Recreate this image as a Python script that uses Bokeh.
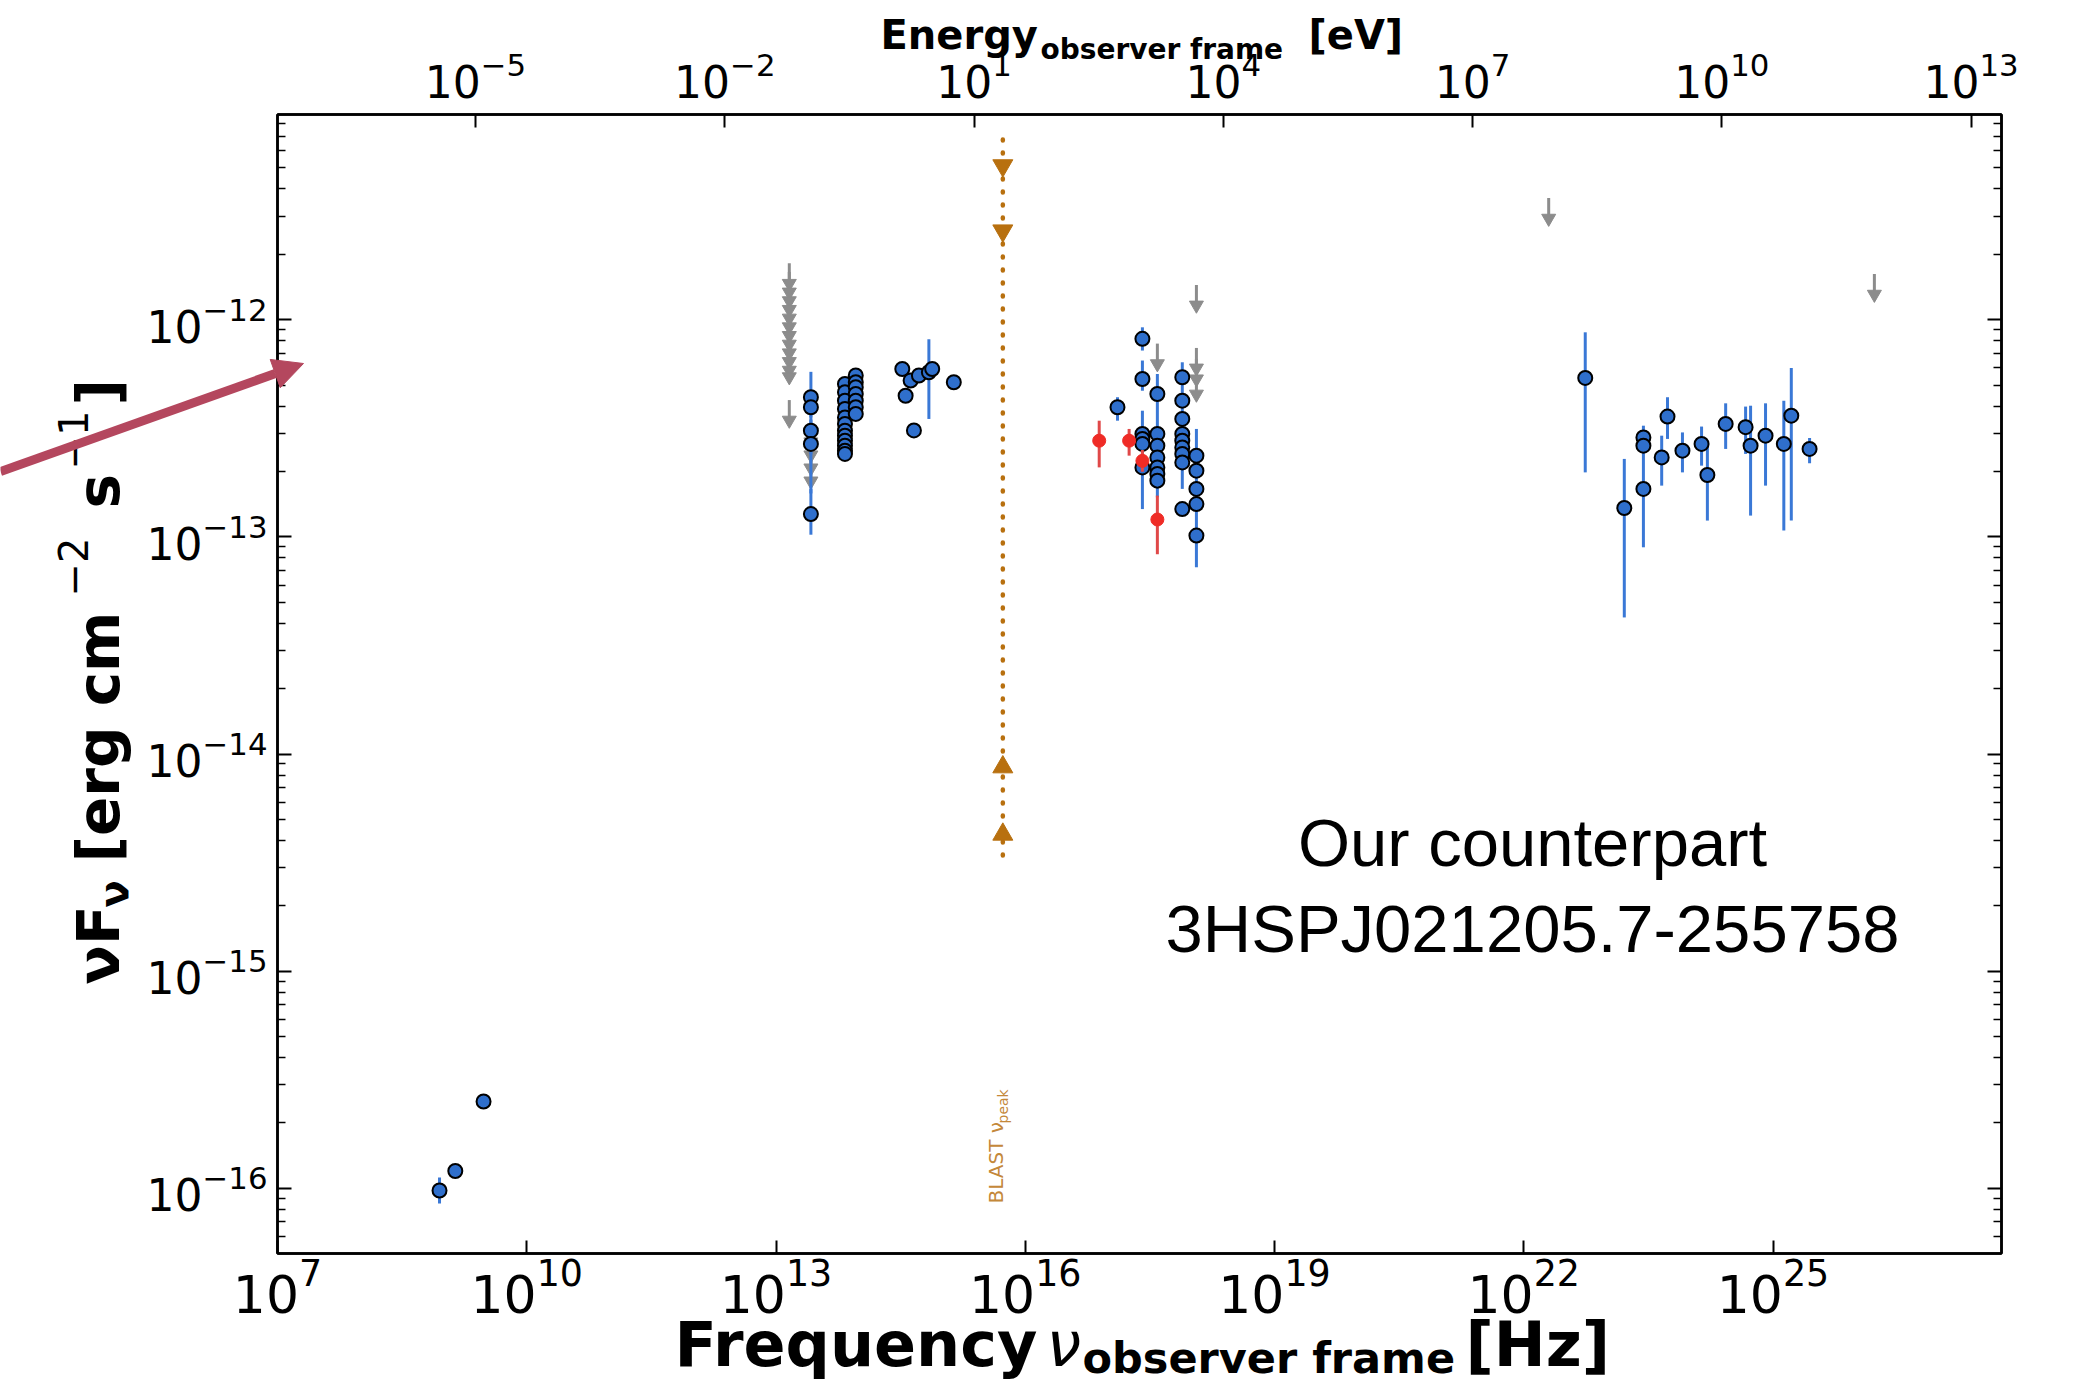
import math
from bokeh.plotting import figure
from bokeh.layouts import column
from bokeh.models import (Range1d, LogScale, LogAxis, FixedTicker, Label, Arrow,
                          NormalHead, CustomJSTickFormatter)
from bokeh.embed import file_html
from bokeh.resources import INLINE

PLANCK_EV_S = 4.135667696e-15
W, H = 2085, 1387

# ---- SED data: log10(nu / Hz), log10(nuFnu / erg cm^-2 s^-1), error low/high (None = no bar)
radio_pts = [
    (8.95, -16.01, -16.07, -15.95),
    (9.14, -15.92, None, None),
    (9.48, -15.60, None, None),
]
ir_pts = [
    (13.42, -12.357, -12.45, -12.24),
    (13.42, -12.403, None, None),
    (13.42, -12.511, -12.62, -12.40),
    (13.42, -12.572, -12.80, -12.46),
    (13.42, -12.895, -12.99, -12.78),
]
ir_cluster_a_nu = 13.83
ir_cluster_a_flux = [-12.296, -12.334, -12.373, -12.411, -12.450, -12.480,
                     -12.511, -12.534, -12.557, -12.580, -12.603, -12.618]
ir_cluster_b_nu = 13.96
ir_cluster_b_flux = [-12.257, -12.288, -12.311, -12.342, -12.373, -12.403, -12.434]
optical_pts = [
    (14.52, -12.227, None, None),
    (14.56, -12.350, None, None),
    (14.62, -12.280, None, None),
    (14.66, -12.510, None, None),
    (14.72, -12.257, None, None),
    (14.84, -12.242, -12.457, -12.090),
    (14.88, -12.227, None, None),
    (15.14, -12.288, None, None),
]
xray_pts = [
    (17.11, -12.403, -12.465, -12.357),
    (17.41, -12.088, -12.142, -12.035),
    (17.41, -12.273, -12.327, -12.188),
    (17.41, -12.526, -12.872, -12.419),
    (17.41, -12.549, None, None),
    (17.41, -12.572, None, None),
    (17.41, -12.680, None, None),
    (17.59, -12.342, None, None),
    (17.59, -12.526, -12.818, -12.250),
    (17.59, -12.580, None, None),
    (17.59, -12.634, None, None),
    (17.59, -12.680, None, None),
    (17.59, -12.710, None, None),
    (17.59, -12.741, None, None),
    (17.89, -12.265, None, None),
    (17.89, -12.373, None, None),
    (17.89, -12.457, None, None),
    (17.89, -12.526, -12.779, -12.196),
    (17.89, -12.557, None, None),
    (17.89, -12.588, None, None),
    (17.89, -12.618, None, None),
    (17.89, -12.657, None, None),
    (17.89, -12.872, None, None),
    (18.06, -12.626, None, None),
    (18.06, -12.695, None, None),
    (18.06, -12.779, -13.140, -12.503),
    (18.06, -12.849, None, None),
    (18.06, -12.994, None, None),
]
gamma_pts = [
    (22.74, -12.268, -12.703, -12.058),
    (23.21, -12.867, -13.371, -12.641),
    (23.44, -12.542, None, None),
    (23.44, -12.580, -13.048, -12.488),
    (23.44, -12.779, None, None),
    (23.66, -12.634, -12.764, -12.534),
    (23.73, -12.446, -12.549, -12.357),
    (23.91, -12.603, -12.703, -12.519),
    (24.14, -12.572, -12.672, -12.492),
    (24.21, -12.715, -12.925, -12.572),
    (24.43, -12.480, -12.595, -12.385),
    (24.67, -12.495, -12.618, -12.400),
    (24.73, -12.580, -12.902, -12.396),
    (24.91, -12.534, -12.764, -12.385),
    (25.13, -12.572, -12.971, -12.373),
    (25.22, -12.442, -12.925, -12.222),
    (25.44, -12.595, -12.661, -12.545),
]
red_pts = [
    (16.89, -12.557, -12.680, -12.465),
    (17.25, -12.557, -12.626, -12.503),
    (17.41, -12.650, -12.700, -12.600),
    (17.59, -12.920, -13.080, -12.810),
]
# upper limits (value at top of arrow)
ul_nu = [13.16] * 13 + [13.42] * 4 + [17.59, 18.06, 18.06, 18.06, 18.06, 22.30, 26.22]
ul_flux = [-11.74, -11.78, -11.82, -11.86, -11.90, -11.94, -11.98, -12.02, -12.06,
           -12.10, -12.14, -12.17, -12.37,
           -12.47, -12.53, -12.59, -12.65,
           -12.11, -11.84, -12.13, -12.18, -12.25, -11.44, -11.79]
# BLAST synchrotron-peak estimate
blast_nu = 15.73
blast_upper = [-11.29, -11.59]
blast_lower = [-14.06, -14.37]
blast_span = (-11.17, -14.47)

x_ticks = [1e7, 1e10, 1e13, 1e16, 1e19, 1e22, 1e25]
y_ticks = [1e-16, 1e-15, 1e-14, 1e-13, 1e-12]
e_ticks = [1e-5, 1e-2, 1e1, 1e4, 1e7, 1e10, 1e13]

BLUE = "#2f6fcc"
BLUE_BAR = "#3a78d6"
RED = "#ef2b26"
RED_BAR = "#e04848"
GRAY = "#8c8c8c"
BROWN = "#b8700f"
BLAST_TEXT = "#c4883a"
ARROW = "#b4475e"

x_lo, x_hi = 1e7, 10 ** 27.75
y_lo, y_hi = 10 ** -16.30, 10 ** -11.055

p = figure(width=W, height=H, x_axis_type="log", y_axis_type="log",
           x_range=Range1d(x_lo, x_hi), y_range=Range1d(y_lo, y_hi),
           output_backend="svg", toolbar_location=None,
           min_border_left=277, min_border_right=84, min_border_top=114, min_border_bottom=134)
p.frame_align = False
p.background_fill_color = "white"
p.border_fill_color = "white"
p.grid.visible = False
p.outline_line_color = "black"
p.outline_line_width = 2.5

p.extra_x_ranges = {"energy": Range1d(x_lo * PLANCK_EV_S, x_hi * PLANCK_EV_S)}
p.extra_x_scales = {"energy": LogScale()}

minor_y = [k * 10.0 ** n for n in range(-17, -11) for k in range(2, 10)]


def style_axis(ax, font_size, tick_len, minor_len=0, standoff=6):
    ax.axis_line_width = 2.5
    ax.axis_line_color = "black"
    ax.major_tick_in = tick_len
    ax.major_tick_out = 0
    ax.minor_tick_in = minor_len
    ax.minor_tick_out = 0
    ax.major_tick_line_width = 2
    ax.minor_tick_line_width = 1.5
    ax.major_label_text_font = "DejaVu Sans"
    ax.major_label_text_font_size = font_size
    ax.major_label_text_color = "black"
    ax.major_label_standoff = standoff


xa = p.xaxis[0]
xa.ticker = FixedTicker(ticks=x_ticks, minor_ticks=[])
style_axis(xa, "52px", 13, 0, 4)

ya = p.yaxis[0]
ya.ticker = FixedTicker(ticks=y_ticks, minor_ticks=minor_y)
style_axis(ya, "44px", 14, 8, 10)

top = LogAxis(x_range_name="energy", ticker=FixedTicker(ticks=e_ticks, minor_ticks=[]))
style_axis(top, "44px", 13, 0, 17)
p.add_layout(top, "above")

right = LogAxis(ticker=FixedTicker(ticks=y_ticks, minor_ticks=minor_y),
                formatter=CustomJSTickFormatter(code="return ''"))
style_axis(right, "10px", 14, 8, 0)
p.add_layout(right, "right")


def split(points):
    nu = [10 ** a for a, _, _, _ in points]
    fl = [10 ** b for _, b, _, _ in points]
    enu = [10 ** a for a, _, lo, hi in points if lo is not None]
    elo = [10 ** lo for _, _, lo, hi in points if lo is not None]
    ehi = [10 ** hi for _, _, lo, hi in points if lo is not None]
    return nu, fl, enu, elo, ehi


blue_points = radio_pts + ir_pts + optical_pts + xray_pts + gamma_pts
blue_points += [(ir_cluster_a_nu, f, None, None) for f in ir_cluster_a_flux]
blue_points += [(ir_cluster_b_nu, f, None, None) for f in ir_cluster_b_flux]
b_nu, b_fl, b_enu, b_elo, b_ehi = split(blue_points)
r_nu, r_fl, r_enu, r_elo, r_ehi = split(red_pts)

# upper limits: stem plus downward head
ul_x = [10 ** v for v in ul_nu]
ul_top = [10 ** v for v in ul_flux]
ul_end = [10 ** (v - 0.10) for v in ul_flux]
ul_head = [10 ** (v - 0.093) for v in ul_flux]
p.segment(x0=ul_x, y0=ul_top, x1=ul_x, y1=ul_end, line_color=GRAY, line_width=3)
p.scatter(x=ul_x, y=ul_head, marker="inverted_triangle", size=14,
          fill_color=GRAY, line_color=GRAY)

# BLAST nu_peak
bx = 10 ** blast_nu
p.segment(x0=[bx], y0=[10 ** blast_span[0]], x1=[bx], y1=[10 ** blast_span[1]],
          line_color=BROWN, line_width=4.5, line_dash="1 12", line_cap="round")
p.scatter(x=[bx] * len(blast_upper), y=[10 ** v for v in blast_upper],
          marker="inverted_triangle", size=20, fill_color=BROWN, line_color=BROWN)
p.scatter(x=[bx] * len(blast_lower), y=[10 ** v for v in blast_lower],
          marker="triangle", size=20, fill_color=BROWN, line_color=BROWN)

# detections
p.segment(x0=b_enu, y0=b_elo, x1=b_enu, y1=b_ehi, line_color=BLUE_BAR, line_width=3)
p.scatter(x=b_nu, y=b_fl, marker="circle", size=14, fill_color=BLUE,
          line_color="black", line_width=2)
p.segment(x0=r_enu, y0=r_elo, x1=r_enu, y1=r_ehi, line_color=RED_BAR, line_width=3)
p.scatter(x=r_nu, y=r_fl, marker="circle", size=13, fill_color=RED, line_color=RED)

# ---- transparent overlay in page pixels (y down) for titles, labels and the pointer arrow
ov = figure(width=W, height=H, x_range=Range1d(0, W), y_range=Range1d(H, 0),
            output_backend="svg", toolbar_location=None,
            x_axis_location=None, y_axis_location=None, min_border=0,
            styles={"margin-top": f"-{H}px"})
ov.frame_align = False
ov.grid.visible = False
ov.outline_line_color = None
ov.background_fill_color = None
ov.border_fill_color = None

SHIFT = 0.38  # baseline correction, in em


def text(txt, x, y, size, style="bold", color="black", vertical=False, align="left",
         font="DejaVu Sans"):
    if vertical:
        x -= SHIFT * size
    else:
        y -= SHIFT * size
    ov.add_layout(Label(x=x, y=y, text=txt,
                        text_font=font, text_font_size=f"{size}px",
                        text_font_style=style,
                        text_color=color, angle=math.pi / 2 if vertical else 0.0,
                        text_align=align, text_baseline="alphabetic"))


# bottom axis title
text("Frequency", 674, 1368, 62)
text("ν", 1046, 1368, 62, style="italic")
text("observer frame", 1082, 1374, 43)
text("[Hz]", 1465, 1368, 62)

# top axis title
text("Energy", 880, 50, 40)
text("observer frame", 1040, 60, 28)
text("[eV]", 1308, 50, 40)

# left axis title (reads upward)
text("νF", 121, 984, 58, vertical=True)
text("ν", 129, 907, 40, vertical=True)
text("[erg cm", 121, 862, 58, vertical=True)
text("−2", 88, 596, 40, style="normal", vertical=True)
text("s", 121, 508, 58, vertical=True)
text("−1", 88, 469, 40, style="normal", vertical=True)
text("]", 121, 405, 58, vertical=True)

# BLAST label
text("BLAST ν", 1003, 1203, 20, style="normal", color=BLAST_TEXT, vertical=True)
text("peak", 1008, 1123, 14, style="normal", color=BLAST_TEXT, vertical=True)

# source annotation
text("Our counterpart", 1532, 867, 67, style="normal", align="center",
     font="Liberation Sans")
text("3HSPJ021205.7-255758", 1532, 953, 67, style="normal", align="center",
     font="Liberation Sans")

ov.add_layout(Arrow(end=NormalHead(size=30, fill_color=ARROW, line_color=ARROW),
                    x_start=0, y_start=471, x_end=303, y_end=363,
                    line_color=ARROW, line_width=9))

page = column(p, ov)
open("out.html", "w").write(file_html(page, INLINE))
